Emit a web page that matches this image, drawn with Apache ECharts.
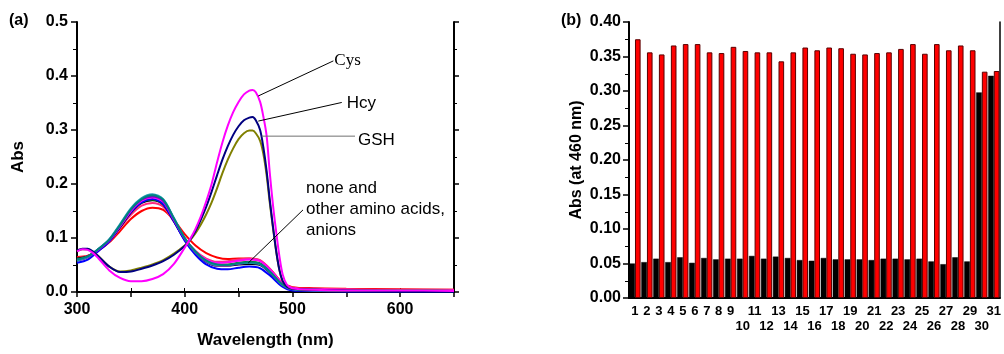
<!DOCTYPE html>
<html>
<head>
<meta charset="utf-8">
<script src="https://cdn.jsdelivr.net/npm/echarts@6/dist/echarts.min.js"></script>
<style>
  html, body { margin: 0; padding: 0; background: #fff; }
  #chart { width: 1004px; height: 354px; }
</style>
</head>
<body>
<div id="chart"></div>
<script>
// ---------- (a) absorption spectra ----------
// wavelength grid (nm) shared by the "none / other amino acids, anions" spectra
const WL_BG = [300,310,320,330,340,350,360,370,380,390,400,410,420,430,440,450,460,470,480,490,500,520,550,600,650];
const BG_TEAL    = [0.060,0.066,0.080,0.097,0.124,0.153,0.172,0.179,0.171,0.136,0.100,0.075,0.058,0.051,0.050,0.053,0.055,0.052,0.036,0.015,0.006,0.004,0.003,0.003,0.002];
const BG_CYAN    = [0.058,0.065,0.080,0.098,0.126,0.155,0.174,0.181,0.172,0.137,0.100,0.074,0.057,0.050,0.050,0.053,0.054,0.051,0.035,0.014,0.005,0.003,0.003,0.002,0.002];
const BG_PURPLE  = [0.058,0.064,0.079,0.097,0.124,0.152,0.171,0.177,0.169,0.135,0.099,0.073,0.056,0.049,0.049,0.052,0.054,0.051,0.035,0.014,0.005,0.003,0.002,0.002,0.002];
const BG_MAGENTA = [0.059,0.065,0.079,0.096,0.122,0.150,0.169,0.175,0.167,0.134,0.099,0.075,0.060,0.054,0.055,0.058,0.060,0.057,0.040,0.017,0.007,0.005,0.004,0.003,0.003];
const BG_BLUE    = [0.054,0.060,0.076,0.094,0.121,0.148,0.166,0.172,0.163,0.131,0.095,0.069,0.051,0.043,0.042,0.045,0.047,0.044,0.029,0.011,0.003,0.002,0.001,0.001,0.001];
const BG_GREEN   = [0.061,0.066,0.079,0.096,0.122,0.149,0.167,0.171,0.163,0.132,0.098,0.074,0.058,0.051,0.051,0.054,0.056,0.053,0.037,0.015,0.006,0.004,0.003,0.003,0.002];
const BG_BLACK   = [0.062,0.066,0.078,0.095,0.120,0.147,0.165,0.170,0.162,0.131,0.097,0.072,0.056,0.049,0.049,0.051,0.052,0.050,0.034,0.014,0.005,0.003,0.002,0.002,0.002];
const BG_PINK    = [0.063,0.067,0.078,0.094,0.118,0.143,0.160,0.165,0.158,0.130,0.098,0.076,0.062,0.056,0.057,0.060,0.062,0.059,0.041,0.018,0.008,0.006,0.005,0.004,0.004];
const BG_RED     = [0.065,0.067,0.077,0.092,0.113,0.135,0.150,0.156,0.152,0.133,0.107,0.086,0.072,0.064,0.061,0.062,0.062,0.058,0.041,0.018,0.009,0.007,0.006,0.005,0.004];

// thiol spectra, denser grid around the 460 nm band
const WL_THIOL = [300,305,310,315,320,330,340,350,360,370,380,390,400,405,410,415,420,425,430,435,440,445,450,455,460,463,466,470,473,476,479,482,485,488,491,495,500,520,550,600,650];
const ABS_CYS = [0.075,0.079,0.078,0.072,0.062,0.040,0.026,0.020,0.020,0.024,0.033,0.052,0.082,0.098,0.117,0.140,0.168,0.200,0.240,0.277,0.308,0.333,0.352,0.366,0.373,0.374,0.370,0.352,0.325,0.290,0.220,0.160,0.110,0.065,0.032,0.013,0.007,0.004,0.003,0.003,0.002];
const ABS_HCY = [0.077,0.080,0.080,0.075,0.066,0.047,0.037,0.038,0.043,0.049,0.057,0.069,0.085,0.097,0.113,0.134,0.158,0.186,0.216,0.245,0.270,0.291,0.307,0.318,0.323,0.324,0.318,0.300,0.268,0.225,0.170,0.120,0.075,0.040,0.020,0.010,0.006,0.004,0.003,0.002,0.002];
const ABS_GSH = [0.076,0.079,0.079,0.074,0.066,0.047,0.038,0.040,0.045,0.051,0.059,0.071,0.086,0.096,0.109,0.125,0.144,0.166,0.192,0.220,0.245,0.266,0.283,0.294,0.299,0.299,0.294,0.280,0.256,0.217,0.165,0.118,0.074,0.040,0.020,0.010,0.006,0.004,0.003,0.003,0.002];

// ---------- (b) absorbance at 460 nm ----------
const SAMPLES = ['1','2','3','4','5','6','7','8','9','10','11','12','13','14','15','16','17','18','19','20','21','22','23','24','25','26','27','28','29','30','31'];
const ABS460_BLANK = [0.050,0.052,0.057,0.052,0.059,0.051,0.058,0.056,0.057,0.057,0.061,0.057,0.060,0.058,0.055,0.054,0.058,0.056,0.056,0.056,0.055,0.057,0.057,0.056,0.057,0.053,0.049,0.059,0.053,0.298,0.322];
const ABS460_CYS   = [0.375,0.356,0.353,0.366,0.368,0.368,0.356,0.355,0.364,0.358,0.356,0.356,0.343,0.356,0.363,0.359,0.363,0.362,0.354,0.353,0.355,0.356,0.361,0.368,0.354,0.368,0.359,0.366,0.359,0.328,0.329];

const FONT = 'Arial, "Liberation Sans", sans-serif';
const SERIF = '"Times New Roman", "Liberation Serif", serif';

function pairs(xs, ys) { return xs.map((x, i) => [x, ys[i]]); }

function spectrum(name, ys, color, xs) {
  return {
    name, type: 'line', xAxisIndex: 0, yAxisIndex: 0,
    data: pairs(xs || WL_BG, ys),
    smooth: 0.3, symbol: 'none', silent: true,
    lineStyle: { color, width: 2 }, z: 2
  };
}

function callout(points, text, color, dist, style) {
  return {
    type: 'line', xAxisIndex: 0, yAxisIndex: 0, data: points,
    symbol: 'none', silent: true, z: 5,
    lineStyle: { color, width: 1 },
    endLabel: Object.assign({
      show: true, formatter: text, distance: dist, color: '#000',
      fontSize: 17, fontFamily: FONT
    }, style || {})
  };
}

const chart = echarts.init(document.getElementById('chart'), null, { renderer: 'canvas' });

const labelStyle = { color: '#000', fontFamily: FONT, fontWeight: 'bold', fontSize: 16 };
const titleStyle = { color: '#000', fontFamily: FONT, fontWeight: 'bold', fontSize: 17 };
const blackLine = w => ({ show: true, lineStyle: { color: '#000', width: w } });

chart.setOption({
  animation: false,
  backgroundColor: '#fff',
  title: [
    { text: '(a)', left: 9, top: 13, padding: 0, textStyle: { color: '#000', fontFamily: FONT, fontWeight: 'bold', fontSize: 16 } },
    { text: '(b)', left: 561, top: 13, padding: 0, textStyle: { color: '#000', fontFamily: FONT, fontWeight: 'bold', fontSize: 16 } }
  ],
  grid: [
    { left: 77, top: 22, width: 377, height: 276 },
    { left: 629, top: 22, width: 373, height: 276 }
  ],
  xAxis: [
    {
      gridIndex: 0, type: 'value', position: 'bottom', min: 300, max: 650, interval: 50,
      axisLine: blackLine(2),
      axisTick: { show: true, length: 5, lineStyle: { color: '#000', width: 1.5 } },
      axisLabel: Object.assign({ margin: 10, formatter: v => (v % 100 === 0 && v < 650) ? String(v) : '' }, labelStyle),
      splitLine: { show: false },
      name: 'Wavelength (nm)', nameLocation: 'middle', nameGap: 40, nameTextStyle: titleStyle
    },
    {
      gridIndex: 0, type: 'value', position: 'top', min: 300, max: 650, interval: 50,
      axisLine: blackLine(1.5),
      axisTick: { show: true, length: 4, lineStyle: { color: '#000', width: 1 } },
      axisLabel: { show: false }, splitLine: { show: false }
    },
    {
      gridIndex: 1, type: 'category', position: 'bottom', data: SAMPLES,
      axisLine: blackLine(2),
      axisTick: { show: false },
      axisLabel: {
        interval: 0, margin: 6, color: '#000', fontFamily: FONT, fontWeight: 'bold', fontSize: 13, lineHeight: 15,
        formatter: v => (Number(v) >= 10 && Number(v) % 2 === 0) ? '\n' + v : v
      },
      splitLine: { show: false }
    },
    {
      gridIndex: 1, type: 'category', position: 'top', data: SAMPLES,
      axisLine: blackLine(1.5), axisTick: { show: false }, axisLabel: { show: false }, splitLine: { show: false }
    }
  ],
  yAxis: [
    {
      gridIndex: 0, type: 'value', position: 'left', min: 0, max: 0.5, interval: 0.1,
      axisLine: blackLine(2),
      axisTick: { show: true, length: 6, lineStyle: { color: '#000', width: 1.5 } },
      minorTick: { show: true, splitNumber: 2, length: 4, lineStyle: { color: '#000', width: 1 } },
      axisLabel: Object.assign({ margin: 9, formatter: v => v.toFixed(1) }, labelStyle),
      splitLine: { show: false }, minorSplitLine: { show: false },
      name: 'Abs', nameLocation: 'middle', nameGap: 50, nameRotate: 90, nameTextStyle: titleStyle
    },
    {
      gridIndex: 0, type: 'value', position: 'right', min: 0, max: 0.5, interval: 0.1,
      axisLine: blackLine(2),
      axisTick: { show: true, length: 5, lineStyle: { color: '#000', width: 1.5 } },
      minorTick: { show: true, splitNumber: 2, length: 3, lineStyle: { color: '#000', width: 1 } },
      axisLabel: { show: false }, splitLine: { show: false }
    },
    {
      gridIndex: 1, type: 'value', position: 'left', min: 0, max: 0.4, interval: 0.05,
      axisLine: blackLine(2),
      axisTick: { show: true, length: 6, lineStyle: { color: '#000', width: 1.5 } },
      minorTick: { show: true, splitNumber: 2, length: 4, lineStyle: { color: '#000', width: 1 } },
      axisLabel: Object.assign({ margin: 8, formatter: v => v.toFixed(2) }, labelStyle),
      splitLine: { show: false }, minorSplitLine: { show: false },
      name: 'Abs (at 460 nm)', nameLocation: 'middle', nameGap: 44, nameRotate: 90, nameTextStyle: Object.assign({}, titleStyle, { fontSize: 16 })
    },
    {
      gridIndex: 1, type: 'value', position: 'right', min: 0, max: 0.4, interval: 0.05,
      axisLine: blackLine(1.5), axisTick: { show: false }, axisLabel: { show: false }, splitLine: { show: false }
    }
  ],
  series: [
    spectrum('red', BG_RED, '#ff0000'),
    spectrum('pink', BG_PINK, '#ff2a7f'),
    spectrum('black', BG_BLACK, '#000000'),
    spectrum('green', BG_GREEN, '#008000'),
    spectrum('blue', BG_BLUE, '#0000ff'),
    spectrum('magenta', BG_MAGENTA, '#ff00ff'),
    spectrum('purple', BG_PURPLE, '#8000c0'),
    spectrum('cyan', BG_CYAN, '#20a0b0'),
    spectrum('teal', BG_TEAL, '#008080'),
    spectrum('GSH', ABS_GSH, '#808000', WL_THIOL),
    spectrum('Hcy', ABS_HCY, '#000080', WL_THIOL),
    spectrum('Cys', ABS_CYS, '#ff00ff', WL_THIOL),

    callout([[468.3, 0.363], [538, 0.428]], 'Cys', '#000', 1,
      { fontFamily: SERIF, fontSize: 17, offset: [0, 0] }),
    callout([[468.3, 0.3165], [545.8, 0.351]], 'Hcy', '#000', 5, { offset: [0, 1] }),
    callout([[471.5, 0.2886], [558.1, 0.2886]], 'GSH', '#707070', 3, { offset: [0, 4] }),
    callout([[459, 0.0538], [509.8, 0.152]], 'none and\nother amino acids,\nanions', '#000', 3,
      { lineHeight: 21, offset: [0, -1] }),

    {
      name: 'blank', type: 'bar', xAxisIndex: 2, yAxisIndex: 2, data: ABS460_BLANK,
      barGap: '0%', barCategoryGap: '6%', silent: true,
      itemStyle: { color: '#000', borderColor: '#000', borderWidth: 0.5 }
    },
    {
      name: 'Cys', type: 'bar', xAxisIndex: 2, yAxisIndex: 2, data: ABS460_CYS,
      barGap: '0%', barCategoryGap: '6%', silent: true,
      itemStyle: { color: '#ff0000', borderColor: '#5a0000', borderWidth: 1 }
    }
  ]
});
</script>
</body>
</html>
